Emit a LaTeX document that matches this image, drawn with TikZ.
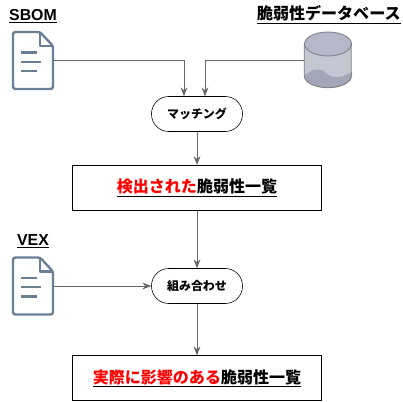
\documentclass[tikz,border=0pt]{standalone}
\usepackage{fontspec}
\setmainfont{Liberation Sans}
\newfontfamily\cjk{Noto Sans CJK JP}
\usetikzlibrary{arrows.meta}

\begin{document}
\begin{tikzpicture}[font=\bfseries, >={Stealth[length=2.2mm,width=1.7mm]},
  title/.style={font=\fontsize{11.3}{13}\selectfont\bfseries, inner sep=0},
  jtitle/.style={font=\fontsize{11.4}{13}\selectfont\cjk\bfseries, inner sep=0},
  step box/.style={draw=black, thick, fill=white, minimum width=6.225cm, minimum height=1.125cm, inner sep=0, font=\fontsize{11.4}{13}\selectfont\cjk\bfseries},
  match/.style={draw=black, fill=white, rounded corners=0.43cm, minimum width=2.275cm, minimum height=0.875cm, inner sep=0, font=\fontsize{8.5}{10}\selectfont\cjk\bfseries},
  flow/.style={->, black!60, semithick},
  icon/.style={draw=slate, line width=1.7pt, line join=round},
  docicon/.pic={
    \node[minimum width=1.05cm, minimum height=1.475cm, inner sep=0] (box) at (0,0) {};
    \draw[icon, rounded corners=0.06cm] (-0.5,0.7125) -- (0.175,0.7125) -- (0.5,0.3625) -- (0.5,-0.7125) -- (-0.5,-0.7125) -- cycle;
    \draw[icon] (0.175,0.7125) -- (0.175,0.3625) -- (0.5,0.3625);
    \draw[icon] (-0.3,0.2) -- (0.1,0.2);
    \draw[icon] (-0.3,-0.03) -- (0.2,-0.03);
    \draw[icon] (-0.3,-0.26) -- (0.1,-0.26);
  }]
\definecolor{slate}{HTML}{6B7F94}
\definecolor{dbbody}{HTML}{C3C7D2}
\definecolor{dbtop}{HTML}{B4B8C8}
\definecolor{dbwave}{HTML}{A2A6B6}
\useasboundingbox (0,0) rectangle (10.05,-10.05);
% Inputs
\node[title] (sbomlab) at (0.825,-0.4) {\underline{SBOM}};
\pic (sbom) at (0.825,-1.5125) {docicon};
\node[jtitle] (dblab) at (8.22,-0.37) {\underline{脆弱性データベース}};
\node[minimum width=1.175cm, minimum height=1.4cm, inner sep=0] (db) at (8.2,-1.5) {};
% Cylinder
\fill[dbbody] (db.north west)++(0,-0.3) -- ++(0,-0.8) arc[start angle=180, end angle=360, x radius=0.5875, y radius=0.3] -- ++(0,0.8) -- cycle;
\fill[dbwave] (7.625,-1.87) .. controls (7.9,-1.65) and (8.1,-1.75) .. (8.2,-1.87) .. controls (8.4,-2) and (8.6,-1.9) .. (8.8,-1.8) -- (8.8,-1.9) arc[start angle=0, end angle=-180, x radius=0.5875, y radius=0.3] -- cycle;
\draw[black!50, semithick, fill=dbtop] (8.2,-1.1) ellipse[x radius=0.5875, y radius=0.3];
\draw[black!50, semithick] (db.north west)++(0,-0.3) -- ++(0,-0.8) arc[start angle=180, end angle=360, x radius=0.5875, y radius=0.3] -- ++(0,0.8);
% Flow
\node[match] (mt) at (4.925,-2.85) {マッチング};
\node[step box] (found) at (4.925,-4.7) {\underline{\textcolor{red}{検出された}脆弱性一覧}};
\node[title] (vexlab) at (0.825,-6.03) {\underline{VEX}};
\pic (vex) at (0.825,-7.15) {docicon};
\node[match] (merge) at (4.925,-7.15) {組み合わせ};
\node[step box] (actual) at (4.925,-9.46) {\underline{\textcolor{red}{実際に影響のある}脆弱性一覧}};
% Connectors
\draw[flow] (sbombox.east) -| (4.6,0 |- mt.north);
\draw[flow] (db.west) -| (5.125,0 |- mt.north);
\draw[flow] (mt) -- (found);
\draw[flow] (found) -- (merge);
\draw[flow] (vexbox.east) -- (merge.west);
\draw[flow] (merge) -- (actual);
\end{tikzpicture}
\end{document}
